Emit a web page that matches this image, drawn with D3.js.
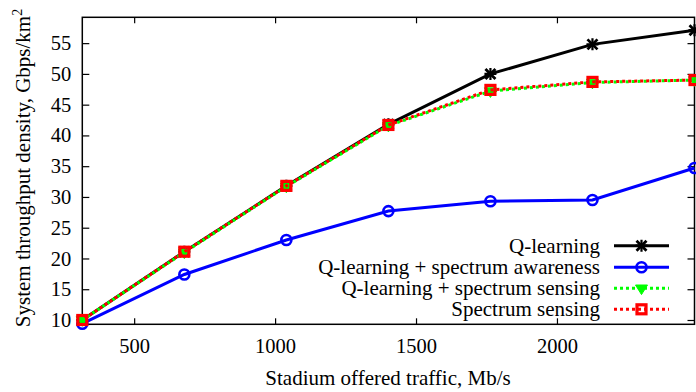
<!DOCTYPE html>
<html>
<head>
<meta charset="utf-8">
<script src="https://cdn.jsdelivr.net/npm/d3@7"></script>
<style>
  html, body { margin: 0; padding: 0; background: #fff; }
  svg { display: block; font-family: "Liberation Serif", "Times New Roman", serif; }
</style>
</head>
<body>
<svg id="chart" width="696" height="392"></svg>
<script>
// Offered traffic (Mb/s) at each simulation point
const traffic = [316, 678, 1040, 1402, 1764, 2126, 2488];

// Throughput density per scheme (Gbps/km^2)
const qLearning       = [10.0, 21.1, 31.8, 41.8, 50.0, 54.8, 57.1];
const qAwareness      = [9.4, 17.4, 23.0, 27.7, 29.3, 29.5, 34.7];
const qSensing        = [10.0, 21.0, 31.7, 41.6, 47.2, 48.6, 49.0];
const spectrumSensing = [10.0, 21.1, 31.8, 41.7, 47.4, 48.7, 49.0];

const seriesNames = [
  "Q-learning",
  "Q-learning + spectrum awareness",
  "Q-learning + spectrum sensing",
  "Spectrum sensing"
];

const xTicks = [500, 1000, 1500, 2000];
const yTicks = [10, 15, 20, 25, 30, 35, 40, 45, 50, 55];

const svg = d3.select("#chart");
const plotLeft = 82.3, plotRight = 694.5, plotTop = 17.3, plotBottom = 324.3;
const fontSize = 21, tickFontSize = 20.5;

const x = d3.scaleLinear().domain([316, 2488]).range([plotLeft, plotRight]);
const y = d3.scaleLinear().domain([9.3, 59.2]).range([plotBottom, plotTop]);

// Axes with inward ticks on all four sides
const gx = svg.append("g").attr("transform", `translate(0,${plotBottom})`)
  .call(d3.axisBottom(x).tickValues(xTicks).tickSize(-6).tickPadding(14).tickFormat(d3.format("d")));
const gxTop = svg.append("g").attr("transform", `translate(0,${plotTop})`)
  .call(d3.axisTop(x).tickValues(xTicks).tickSize(-6).tickFormat(""));
const gy = svg.append("g").attr("transform", `translate(${plotLeft},0)`)
  .call(d3.axisLeft(y).tickValues(yTicks).tickSize(-7).tickPadding(11).tickFormat(d3.format("d")));
const gyRight = svg.append("g").attr("transform", `translate(${plotRight},0)`)
  .call(d3.axisRight(y).tickValues(yTicks).tickSize(-7).tickFormat(""));

[gx, gxTop, gy, gyRight].forEach(g => {
  g.select(".domain").remove();
  g.selectAll(".tick line").attr("stroke", "#000").attr("stroke-width", 1.2);
  g.selectAll(".tick text").attr("fill", "#000")
    .attr("font-family", "Liberation Serif").attr("font-size", tickFontSize);
});

// Frame
svg.append("rect")
  .attr("x", plotLeft).attr("y", plotTop)
  .attr("width", plotRight - plotLeft).attr("height", plotBottom - plotTop)
  .attr("fill", "none").attr("stroke", "#000").attr("stroke-width", 1.5);

// Axis titles
svg.append("text")
  .attr("x", 388).attr("y", 385)
  .attr("text-anchor", "middle").attr("font-size", fontSize)
  .text("Stadium offered traffic, Mb/s");

const yt = svg.append("text")
  .attr("transform", `translate(30,168) rotate(-90)`)
  .attr("text-anchor", "middle").attr("font-size", fontSize);
yt.append("tspan").text("System throughput density, Gbps/km");
yt.append("tspan").attr("dy", "-0.55em").attr("font-size", 14).text("2");

// Marker painters
function drawStar(g, cx, cy, color) {
  const s = 5;
  const p = g.append("g").attr("stroke", color).attr("stroke-width", 2.8).attr("fill", "none");
  p.append("path").attr("d", `M${cx - s},${cy - s}L${cx + s},${cy + s}M${cx - s},${cy + s}L${cx + s},${cy - s}`);
  p.append("path").attr("d", `M${cx - s - 1},${cy}L${cx + s + 1},${cy}M${cx},${cy - s - 1}L${cx},${cy + s + 1}`).attr("stroke-width", 2.2);
}
function drawCircle(g, cx, cy, color) {
  g.append("circle").attr("cx", cx).attr("cy", cy).attr("r", 5)
    .attr("fill", "none").attr("stroke", color).attr("stroke-width", 2.6);
}
function drawTriangle(g, cx, cy, color) {
  const s = 6;
  g.append("path")
    .attr("d", `M${cx - s},${cy - s * 0.55}L${cx + s},${cy - s * 0.55}L${cx},${cy + s * 1.05}Z`)
    .attr("fill", color).attr("stroke", color).attr("stroke-width", 1);
}
function drawSquare(g, cx, cy, color) {
  g.append("rect").attr("x", cx - 4.5).attr("y", cy - 4.5).attr("width", 9).attr("height", 9)
    .attr("fill", "none").attr("stroke", color).attr("stroke-width", 3.2);
}

const series = [
  { name: seriesNames[0], values: qLearning,       color: "#000000", dash: null,  marker: drawStar },
  { name: seriesNames[1], values: qAwareness,      color: "#0000ff", dash: null,  marker: drawCircle },
  { name: seriesNames[2], values: qSensing,        color: "#00ff00", dash: "3,3", marker: drawTriangle },
  { name: seriesNames[3], values: spectrumSensing, color: "#ff0000", dash: "3,3", marker: drawSquare }
];

const line = d3.line().x(d => x(d[0])).y(d => y(d[1]));
const plot = svg.append("g");

series.forEach((s, i) => {
  const pts = traffic.map((t, k) => [t, s.values[k]]);
  plot.append("path")
    .datum(pts)
    .attr("d", line)
    .attr("fill", "none")
    .attr("stroke", s.color)
    .attr("stroke-width", 3)
    .attr("stroke-dasharray", s.dash)
    .attr("stroke-dashoffset", i === 3 ? 3 : 0);
  const mg = plot.append("g");
  pts.forEach(p => s.marker(mg, x(p[0]), y(p[1]), s.color));
});

// Legend
const legendRight = 600, sampleX0 = 614, sampleX1 = 669;
const legendY = [245.7, 267.3, 288.3, 309.3];
series.forEach((s, i) => {
  const ly = legendY[i];
  svg.append("text")
    .attr("x", legendRight).attr("y", ly).attr("dy", "0.33em")
    .attr("text-anchor", "end").attr("font-size", fontSize)
    .text(s.name);
  svg.append("line")
    .attr("x1", sampleX0).attr("x2", sampleX1).attr("y1", ly).attr("y2", ly)
    .attr("stroke", s.color).attr("stroke-width", 3)
    .attr("stroke-dasharray", s.dash);
  s.marker(svg, (sampleX0 + sampleX1) / 2, ly, s.color);
});
</script>
</body>
</html>
